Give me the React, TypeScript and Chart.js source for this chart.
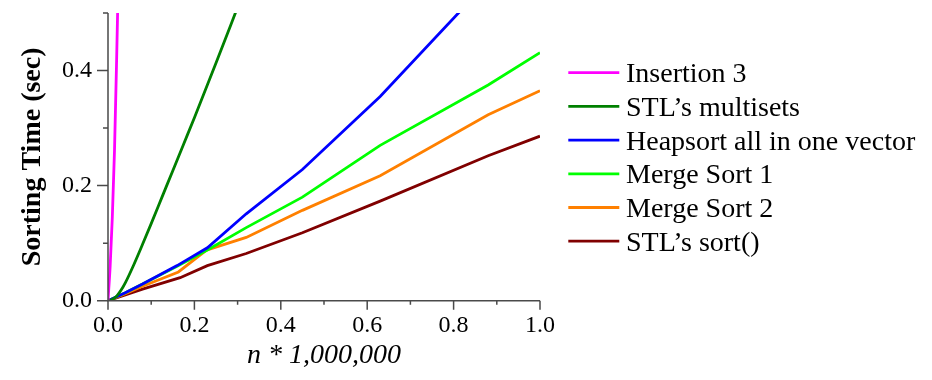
import React, { useEffect, useRef } from "react";
import { Chart, registerables } from "chart.js";

Chart.register(...registerables);

// ---- data ----
const seriesLabels = [
  "Insertion 3",
  "STL\u2019s multisets",
  "Heapsort all in one vector",
  "Merge Sort 1",
  "Merge Sort 2",
  "STL\u2019s sort()",
];
const seriesColors = ["#ff00ff", "#008000", "#0000ff", "#00ff00", "#ff8000", "#800000"];

const insertionX = [0, 0.005, 0.01, 0.015, 0.02, 0.025];
const insertionY = [0, 0.06, 0.145, 0.26, 0.42, 0.6];

const multisetX = [0, 0.01, 0.02, 0.03, 0.04, 0.06, 0.08, 0.1, 0.125, 0.15, 0.175, 0.2, 0.25, 0.3];
const multisetY = [0, 0.002, 0.008, 0.018, 0.031, 0.063, 0.098, 0.134, 0.18, 0.226, 0.272, 0.318, 0.413, 0.51];

const heapX = [0, 0.04, 0.08, 0.16, 0.23, 0.32, 0.45, 0.63, 0.88, 1.0];
const heapY = [0, 0.014, 0.029, 0.061, 0.092, 0.151, 0.228, 0.355, 0.555, 0.66];

const merge1X = [0, 0.04, 0.08, 0.16, 0.23, 0.32, 0.45, 0.63, 0.88, 1.0];
const merge1Y = [0, 0.014, 0.029, 0.06, 0.088, 0.127, 0.18, 0.27, 0.375, 0.431];

const merge2X = [0, 0.04, 0.08, 0.163, 0.228, 0.32, 0.45, 0.63, 0.88, 1.0];
const merge2Y = [0, 0.012, 0.025, 0.05, 0.088, 0.11, 0.157, 0.217, 0.323, 0.365];

const stlSortX = [0, 0.04, 0.08, 0.167, 0.23, 0.32, 0.45, 0.63, 0.88, 1.0];
const stlSortY = [0, 0.01, 0.02, 0.04, 0.061, 0.082, 0.118, 0.173, 0.252, 0.286];

const seriesX = [insertionX, multisetX, heapX, merge1X, merge2X, stlSortX];
const seriesY = [insertionY, multisetY, heapY, merge1Y, merge2Y, stlSortY];

const xTitle = "n * 1,000,000";
const yTitle = "Sorting Time (sec)";

const SERIF = "'Liberation Serif', 'Times New Roman', serif";
const AXIS_COLOR = "#4a4a4a";

const isMajor = (v: number) => Math.round(v * 10) % 2 === 0;

const tickPlugin = {
  id: "minorMajorTicks",
  afterDatasetsDraw(chart: any) {
    const ctx = chart.ctx;
    const xs = chart.scales.x;
    const ys = chart.scales.y;
    const area = chart.chartArea;
    ctx.save();
    ctx.strokeStyle = AXIS_COLOR;
    ctx.lineWidth = 1.5;
    ctx.beginPath();
    xs.ticks.forEach((t: any) => {
      const px = xs.getPixelForValue(t.value);
      const len = isMajor(t.value) ? 9 : 4;
      ctx.moveTo(px, area.bottom);
      ctx.lineTo(px, area.bottom + len);
    });
    ys.ticks.forEach((t: any) => {
      const py = ys.getPixelForValue(t.value);
      const len = isMajor(t.value) ? 11 : 5;
      ctx.moveTo(area.left, py);
      ctx.lineTo(area.left - len, py);
    });
    ctx.stroke();
    ctx.beginPath();
    ctx.moveTo(area.left, area.top);
    ctx.lineTo(area.left, area.bottom);
    ctx.lineTo(area.right, area.bottom);
    ctx.stroke();
    ctx.restore();
  },
};

const legendPlugin = {
  id: "customLegend",
  afterDraw(chart: any) {
    const ctx = chart.ctx;
    const startX = 560.3;
    const lineLen = 51;
    const textX = 618;
    const firstY = 64.7;
    const step = 33.7;
    ctx.save();
    ctx.font = `28px ${SERIF}`;
    ctx.textBaseline = "alphabetic";
    ctx.textAlign = "left";
    chart.data.datasets.forEach((ds: any, i: number) => {
      const y = firstY + i * step;
      ctx.strokeStyle = ds.borderColor;
      ctx.lineWidth = 2.8;
      ctx.beginPath();
      ctx.moveTo(startX, y);
      ctx.lineTo(startX + lineLen, y);
      ctx.stroke();
      ctx.fillStyle = "#000";
      ctx.fillText(ds.label, textX, y + 9.6);
    });
    ctx.restore();
  },
};

export default function App() {
  const ref = useRef<HTMLCanvasElement | null>(null);

  useEffect(() => {
    if (!ref.current) return;
    const datasets = seriesLabels.map((label, i) => ({
      label,
      data: seriesX[i].map((x, j) => ({ x, y: seriesY[i][j] })),
      borderColor: seriesColors[i],
      backgroundColor: seriesColors[i],
      borderWidth: 2.8,
      pointRadius: 0,
      fill: false,
      tension: 0,
      cubicInterpolationMode: i < 2 ? "monotone" : "default",
    }));
    const chart = new Chart(ref.current, {
      type: "line",
      data: { datasets } as any,
      options: {
        animation: false,
        responsive: false,
        events: [],
        layout: { padding: { top: 5, right: 384, left: 0, bottom: 0 } },
        plugins: { legend: { display: false }, tooltip: { enabled: false } },
        scales: {
          x: {
            type: "linear",
            min: 0,
            max: 1,
            afterFit: (s: any) => {
              s.height = 71.3;
              s.paddingLeft = 0;
              s.paddingRight = 0;
            },
            border: { display: false },
            grid: { display: true, drawOnChartArea: false, drawTicks: true, tickLength: 9, tickColor: "rgba(0,0,0,0)" },
            ticks: {
              stepSize: 0.1,
              autoSkip: false,
              maxRotation: 0,
              padding: 2,
              color: "#000",
              font: { family: SERIF, size: 24 },
              callback: (v: any) => (isMajor(Number(v)) ? Number(v).toFixed(1) : ""),
            },
            title: {
              display: true,
              text: xTitle,
              color: "#000",
              font: { family: SERIF, size: 28, style: "italic" },
              padding: { top: 0, bottom: 0 },
            },
          },
          y: {
            type: "linear",
            min: 0,
            max: 0.5,
            afterFit: (s: any) => {
              s.width = 100;
              s.paddingTop = 0;
              s.paddingBottom = 0;
            },
            border: { display: false },
            grid: { display: true, drawOnChartArea: false, drawTicks: true, tickLength: 11, tickColor: "rgba(0,0,0,0)" },
            ticks: {
              stepSize: 0.1,
              autoSkip: false,
              padding: 5,
              color: "#000",
              font: { family: SERIF, size: 24 },
              callback: (v: any) => (isMajor(Number(v)) && Number(v) < 0.45 ? Number(v).toFixed(1) : ""),
            },
            title: {
              display: true,
              text: yTitle,
              color: "#000",
              font: { family: SERIF, size: 28, weight: "bold" },
              padding: { top: 8, bottom: 0 },
            },
          },
        },
      },
      plugins: [tickPlugin, legendPlugin],
    } as any);
    return () => chart.destroy();
  }, []);

  return (
    <div style={{ width: 916, height: 364 }}>
      <canvas ref={ref} width={916} height={364} style={{ display: "block" }} />
    </div>
  );
}
